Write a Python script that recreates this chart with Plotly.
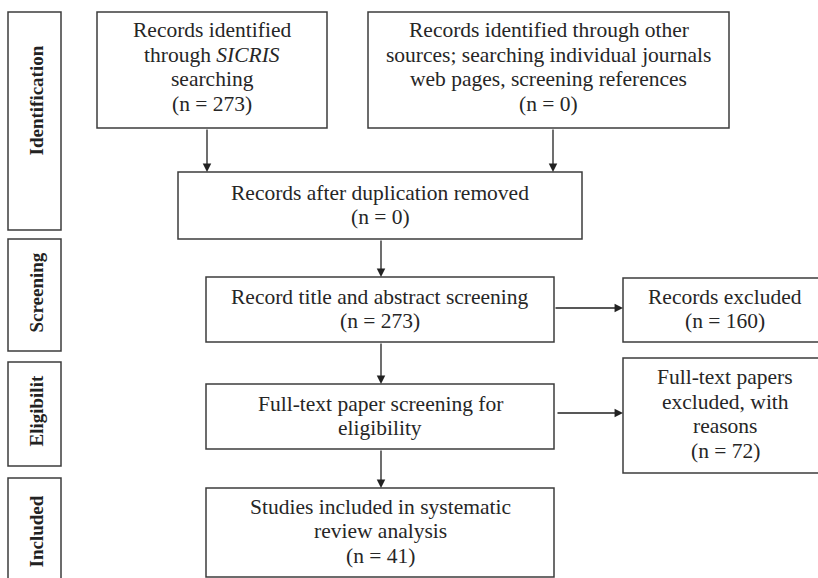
import plotly.graph_objects as go

W, H = 818, 578

# ---- content ----
stage_labels = ["Identification", "Screening", "Eligibilit", "Included"]
box_lines = [
    ["Records identified", "through <i>SICRIS</i>", "searching", "(n = 273)"],
    ["Records identified through other", "sources; searching individual journals",
     "web pages, screening references", "(n = 0)"],
    ["Records after duplication removed", "(n = 0)"],
    ["Record title and abstract screening", "(n = 273)"],
    ["Full-text paper screening for", "eligibility"],
    ["Studies included in systematic", "review analysis", "(n = 41)"],
    ["Records excluded", "(n = 160)"],
    ["Full-text papers", "excluded, with", "reasons", "(n = 72)"],
]

# ---- layout geometry (pixels) ----
stage_boxes = [(8, 12, 61, 230), (8, 239, 61, 351), (8, 362, 61, 466), (8, 478, 61, 590)]
stage_label_y = [101, 293, 411, 532]
boxes = [
    (97, 12, 327, 128),
    (368, 12, 729, 128),
    (178, 172, 582, 239),
    (206, 277, 554, 342),
    (206, 384, 554, 449),
    (206, 488, 554, 577),
    (623, 278, 827, 342),
    (623, 358, 827, 473),
]
text_center_y = [67, 67, 205, 309, 416, 531, 309, 414]
arrows = [  # (x0, y0, x1, y1)
    (207, 128, 207, 172),
    (553, 128, 553, 172),
    (381, 239, 381, 277),
    (381, 342, 381, 384),
    (381, 449, 381, 488),
    (554, 308, 623, 308),
    (556, 413, 623, 413),
]
LINE_GAP = 24.5

FONT = "Liberation Serif"
fig = go.Figure()
fig.add_trace(go.Scatter(x=[0], y=[0], mode="markers", marker=dict(opacity=0),
                         hoverinfo="skip", showlegend=False))

shapes = []
annotations = []
for (x0, y0, x1, y1) in stage_boxes + boxes:
    shapes.append(dict(type="rect", xref="x", yref="y", x0=x0, y0=y0, x1=x1, y1=y1,
                       line=dict(color="#3c3c3c", width=1.5), fillcolor="white", layer="below"))

for lbl, (x0, y0, x1, y1), yc in zip(stage_labels, stage_boxes, stage_label_y):
    annotations.append(dict(x=(x0 + x1) / 2 + 1, y=yc, xref="x", yref="y", text="<b>" + lbl + "</b>",
                            showarrow=False, textangle=-90,
                            font=dict(family=FONT, size=19, color="#222")))

for lines, (x0, y0, x1, y1), yc in zip(box_lines, boxes, text_center_y):
    n = len(lines)
    for i, line in enumerate(lines):
        annotations.append(dict(x=(x0 + x1) / 2, y=yc + (i - (n - 1) / 2) * LINE_GAP,
                                xref="x", yref="y", text=line, showarrow=False,
                                font=dict(family=FONT, size=21.5, color="#262626")))

for (x0, y0, x1, y1) in arrows:
    annotations.append(dict(x=x1, y=y1, ax=x0, ay=y0, xref="x", yref="y", axref="x", ayref="y",
                            text="", showarrow=True, arrowhead=2, arrowsize=1.3, arrowwidth=1.3,
                            arrowcolor="#222", standoff=0, startstandoff=0))

fig.update_layout(
    width=W, height=H, margin=dict(l=0, r=0, t=0, b=0),
    paper_bgcolor="white", plot_bgcolor="white",
    xaxis=dict(range=[0, W], visible=False, fixedrange=True),
    yaxis=dict(range=[H, 0], visible=False, fixedrange=True),
    shapes=shapes, annotations=annotations, showlegend=False,
)
fig.write_html("out.html", config={"displayModeBar": False},
               post_script="document.body.style.margin='0px';")
